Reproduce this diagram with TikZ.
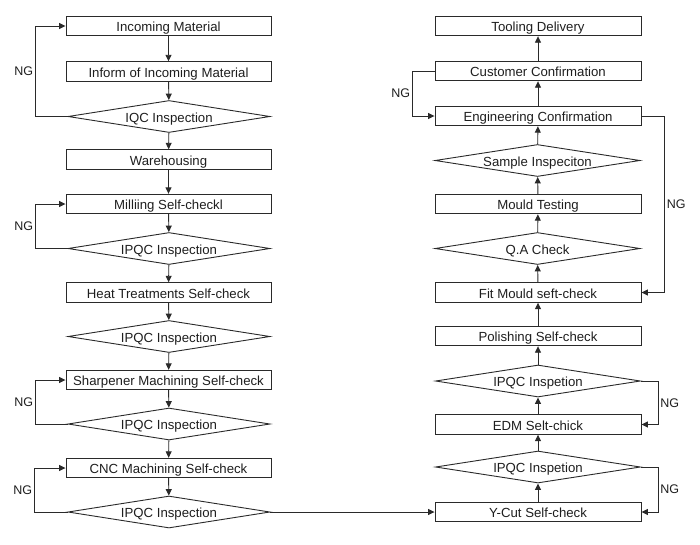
\documentclass[tikz,border=0pt]{standalone}
\usepackage{fontspec}
\setmainfont{Liberation Sans}
\usetikzlibrary{shapes.geometric,arrows.meta}
\definecolor{ln}{HTML}{2A2A2A}
\definecolor{tx}{HTML}{1E1E1E}
\tikzset{
  base/.style={draw=ln, line width=0.9pt, text=tx, inner sep=0pt,
    font=\fontsize{13.2}{15}\selectfont, text height=11pt, text depth=0pt},
  lbox/.style={base, rectangle, minimum width=205pt, minimum height=19.5pt},
  rbox/.style={base, rectangle, minimum width=206pt, minimum height=19.5pt},
  ldia/.style={base, diamond, aspect=6.3, minimum width=202pt, minimum height=32pt},
  rdia/.style={base, diamond, aspect=6.3, minimum width=205pt, minimum height=32pt},
  arr/.style={draw=ln, line width=0.9pt, -{Triangle[length=6.5pt,width=6pt]}},
  ngl/.style={text=tx, inner sep=2pt, font=\fontsize{12.5}{14}\selectfont}
}
\begin{document}
\begin{tikzpicture}[x=1pt,y=-1pt]
\useasboundingbox (0,0) rectangle (700,544);
% left column
\node[lbox] (inc) at (168.5,26) {Incoming Material};
\node[lbox] (inform) at (168.5,71.5) {Inform of Incoming Material};
\node[ldia] (iqc) at (169,116.5) {IQC Inspection};
\node[lbox] (ware) at (168.5,159.5) {Warehousing};
\node[lbox] (mill) at (168.5,204) {Milliing Self-checkl};
\node[ldia] (ipqc1) at (169,248.5) {IPQC Inspection};
\node[lbox] (heat) at (168.5,292.5) {Heat Treatments Self-check};
\node[ldia] (ipqc2) at (169,336.5) {IPQC Inspection};
\node[lbox] (sharp) at (168.5,380) {Sharpener Machining Self-check};
\node[ldia] (ipqc3) at (169,424) {IPQC Inspection};
\node[lbox] (cnc) at (168.5,468) {CNC Machining Self-check};
\node[ldia] (ipqc4) at (169,512) {IPQC Inspection};
% right column
\node[rbox] (tool) at (538,26) {Tooling Delivery};
\node[rbox] (cust) at (538,71) {Customer Confirmation};
\node[rbox] (eng) at (538,116) {Engineering Confirmation};
\node[rdia] (sample) at (537.5,160.5) {Sample Inspeciton};
\node[rbox] (mould) at (538,204) {Mould Testing};
\node[rdia] (qa) at (537.5,248.5) {Q.A Check};
\node[rbox] (fit) at (538,292.5) {Fit Mould seft-check};
\node[rbox] (pol) at (538,336) {Polishing Self-check};
\node[rdia] (ipqcA) at (538,381) {IPQC Inspetion};
\node[rbox] (edm) at (538,424.5) {EDM Selt-chick};
\node[rdia] (ipqcB) at (538,467) {IPQC Inspetion};
\node[rbox] (ycut) at (538,512) {Y-Cut Self-check};
% left flow
\draw[arr] (inc) -- (inform);
\draw[arr] (inform) -- (iqc);
\draw[arr] (iqc) -- (ware);
\draw[arr] (ware) -- (mill);
\draw[arr] (mill) -- (ipqc1);
\draw[arr] (ipqc1) -- (heat);
\draw[arr] (heat) -- (ipqc2);
\draw[arr] (ipqc2) -- (sharp);
\draw[arr] (sharp) -- (ipqc3);
\draw[arr] (ipqc3) -- (cnc);
\draw[arr] (cnc) -- (ipqc4);
\draw[arr] (ipqc4.east) -- (ycut.west);
% right flow (upwards)
\draw[arr] (ycut) -- (ipqcB);
\draw[arr] (ipqcB) -- (edm);
\draw[arr] (edm) -- (ipqcA);
\draw[arr] (ipqcA) -- (pol);
\draw[arr] (pol) -- (fit);
\draw[arr] (fit) -- (qa);
\draw[arr] (qa) -- (mould);
\draw[arr] (mould) -- (sample);
\draw[arr] (sample) -- (eng);
\draw[arr] (eng) -- (cust);
\draw[arr] (cust) -- (tool);
% NG loops left
\draw[arr] (iqc.west) -- ++(-32,0) |- node[ngl, pos=0.25, left] (ng1) {NG} (inc.west);
\draw[arr] (ipqc1.west) -- ++(-32,0) |- node[ngl, pos=0.25, left] (ng2) {NG} (mill.west);
\draw[arr] (ipqc3.west) -- ++(-32,0) |- node[ngl, pos=0.25, left] (ng3) {NG} (sharp.west);
\draw[arr] (ipqc4.west) -- ++(-33,0) |- node[ngl, pos=0.25, left] (ng4) {NG} (cnc.west);
% NG loops right
\draw[arr] (cust.west) -- ++(-22,0) |- node[ngl, pos=0.25, left] (ng5) {NG} (eng.west);
\draw[arr] (eng.east) -- ++(23,0) |- node[ngl, pos=0.25, right] (ng6) {NG} (fit.east);
\draw[arr] (ipqcA.east) -- ++(17,0) |- node[ngl, pos=0.25, right] (ng7) {NG} (edm.east);
\draw[arr] (ipqcB.east) -- ++(17,0) |- node[ngl, pos=0.25, right] (ng8) {NG} (ycut.east);
\end{tikzpicture}
\end{document}
